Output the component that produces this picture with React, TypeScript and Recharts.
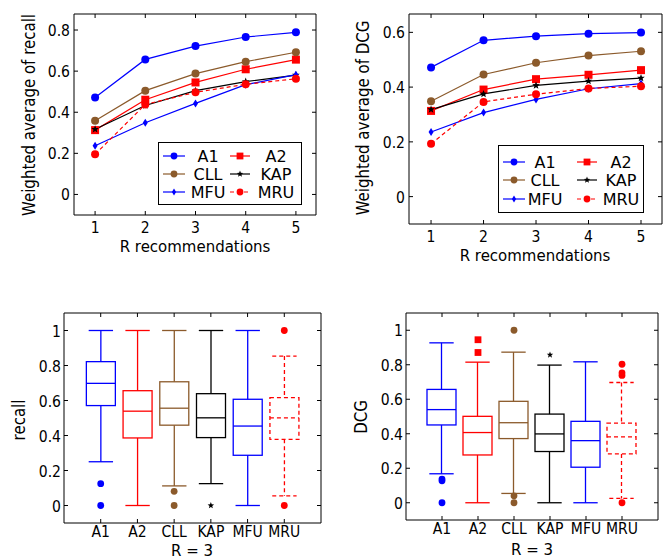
import React from "react";
import { Bar, ComposedChart, Legend, Line, LineChart, Scatter, XAxis, YAxis } from "recharts";

const FONT = "'DejaVu Sans', sans-serif";

const rValues = [1, 2, 3, 4, 5];
const methods = ["A1", "A2", "CLL", "KAP", "MFU", "MRU"];
const boxPositions = [1, 2, 3, 4, 5, 6];

// weighted average of recall, R = 1..5
const recallA1 = [0.472, 0.657, 0.722, 0.766, 0.789];
const recallA2 = [0.313, 0.461, 0.545, 0.609, 0.656];
const recallCLL = [0.359, 0.505, 0.588, 0.646, 0.692];
const recallKAP = [0.317, 0.433, 0.505, 0.549, 0.581];
const recallMFU = [0.237, 0.349, 0.443, 0.534, 0.583];
const recallMRU = [0.195, 0.438, 0.497, 0.536, 0.563];

// weighted average of DCG, R = 1..5
const dcgA1 = [0.472, 0.571, 0.586, 0.595, 0.599];
const dcgA2 = [0.313, 0.391, 0.429, 0.445, 0.462];
const dcgCLL = [0.348, 0.446, 0.489, 0.515, 0.531];
const dcgKAP = [0.318, 0.375, 0.406, 0.422, 0.433];
const dcgMFU = [0.236, 0.307, 0.355, 0.394, 0.413];
const dcgMRU = [0.193, 0.346, 0.374, 0.395, 0.403];

// box plots at R = 3 (order: A1, A2, CLL, KAP, MFU, MRU)
const recallLow = [0.25, 0, 0.112, 0.125, 0, 0.055];
const recallQ1 = [0.571, 0.386, 0.459, 0.388, 0.287, 0.378];
const recallMed = [0.698, 0.539, 0.556, 0.501, 0.454, 0.501];
const recallQ3 = [0.822, 0.656, 0.707, 0.639, 0.607, 0.616];
const recallHigh = [1, 1, 1, 1, 1, 0.854];
const recallOutliers = [[0.125, 0], [], [0.081, 0], [0], [], [1, 0]];

const dcgLow = [0.168, 0, 0.054, 0, 0, 0.025];
const dcgQ1 = [0.451, 0.277, 0.372, 0.297, 0.206, 0.283];
const dcgMed = [0.54, 0.407, 0.464, 0.399, 0.36, 0.382];
const dcgQ3 = [0.657, 0.501, 0.588, 0.514, 0.472, 0.462];
const dcgHigh = [0.927, 0.815, 0.873, 0.798, 0.817, 0.697];
const dcgOutliers = [[0.137, 0.127, 0], [0.945, 0.871], [1, 0.04, 0], [0.857], [], [0.803, 0.753, 0.738, 0]];

const seriesStyle: Record<string, { color: string; marker: string; dash?: string }> = {
  A1: { color: "#0000ff", marker: "circle" },
  A2: { color: "#ff0000", marker: "square" },
  CLL: { color: "#8b5a2b", marker: "circle" },
  KAP: { color: "#000000", marker: "star" },
  MFU: { color: "#0000ff", marker: "thin" },
  MRU: { color: "#ff0000", marker: "circle", dash: "4 3" },
};

function Marker({ kind, cx, cy, color, size = 1 }: any) {
  if (cx == null || cy == null) return <g />;
  if (kind === "square") {
    const h = 4 * size;
    return <rect x={cx - h} y={cy - h} width={2 * h} height={2 * h} fill={color} />;
  }
  if (kind === "star") {
    const pts: string[] = [];
    for (let i = 0; i < 10; i++) {
      const r = (i % 2 === 0 ? 4 : 1.7) * size;
      const a = -Math.PI / 2 + (i * Math.PI) / 5;
      pts.push(`${cx + r * Math.cos(a)},${cy + r * Math.sin(a)}`);
    }
    return <polygon points={pts.join(" ")} fill={color} />;
  }
  if (kind === "thin") {
    const w = 2.5 * size;
    const h = 4 * size;
    return <polygon points={`${cx},${cy - h} ${cx + w},${cy} ${cx},${cy + h} ${cx - w},${cy}`} fill={color} />;
  }
  return <circle cx={cx} cy={cy} r={4 * size} fill={color} />;
}

// text a bit taller than wide, like the scaled-up original
function SText({ x, y, size, sy, anchor, rotate, children }: any) {
  const tf = `translate(${x} ${y})${rotate ? ` rotate(${rotate})` : ""} scale(1 ${sy})`;
  return (
    <text x={0} y={0} transform={tf} textAnchor={anchor} fontSize={size} fontFamily={FONT} fill="#000">
      {children}
    </text>
  );
}

const fmtNum = (v: number) => (v === 0 ? "0" : v === 1 ? "1" : v.toFixed(1));

function bottomTick(label: (v: number) => string, dy: number) {
  return (t: any) => (
    <g>
      <line x1={t.x} y1={t.y} x2={t.x} y2={t.y - 4} stroke="#000" />
      <SText x={t.x} y={t.y + dy} size={14} sy={1.1} anchor="middle">
        {label(t.payload.value)}
      </SText>
    </g>
  );
}

const topTick = (t: any) => <line x1={t.x} y1={t.y} x2={t.x} y2={t.y + 4} stroke="#000" />;
const rightTick = (t: any) => <line x1={t.x} y1={t.y} x2={t.x - 4} y2={t.y} stroke="#000" />;

function leftTick(gap: number) {
  return (t: any) => (
    <g>
      <line x1={t.x} y1={t.y} x2={t.x + 4} y2={t.y} stroke="#000" />
      <SText x={t.x - gap} y={t.y + 6} size={14} sy={1.1} anchor="end">
        {fmtNum(t.payload.value)}
      </SText>
    </g>
  );
}

function titleX(text: string, x: number, y: number) {
  return {
    content: () => (
      <SText x={x} y={y} size={15} sy={1.1} anchor="middle">
        {text}
      </SText>
    ),
  };
}

function titleY(text: string, x: number, y: number) {
  return {
    content: () => (
      <SText x={x} y={y} size={15} sy={1.15} anchor="middle" rotate={-90}>
        {text}
      </SText>
    ),
  };
}

type LegendGeom = { w: number; h: number; rows: number[]; cols: { line: [number, number]; text: number; names: string[] }[] };

function LegendBox({ g }: { g: LegendGeom }) {
  return (
    <svg width={g.w} height={g.h} style={{ display: "block" }}>
      <rect x={0.5} y={0.5} width={g.w - 1} height={g.h - 1} fill="#fff" stroke="#000" />
      {g.cols.map((c) =>
        c.names.map((m, i) => {
          const s = seriesStyle[m];
          const y = g.rows[i];
          const mx = (c.line[0] + c.line[1]) / 2;
          return (
            <g key={m}>
              <line x1={c.line[0]} y1={y} x2={c.line[1]} y2={y} stroke={s.color} strokeWidth={1.2} strokeDasharray={s.dash} />
              <Marker kind={s.marker} cx={mx} cy={y} color={s.color} size={0.85} />
              <text x={c.text} y={y + 6} textAnchor="middle" fontSize={16} fontFamily={FONT} fill="#000">
                {m}
              </text>
            </g>
          );
        })
      )}
    </svg>
  );
}

type LinePanelProps = {
  left: number;
  top: number;
  width: number;
  height: number;
  margin: { top: number; right: number; bottom: number; left: number };
  values: Record<string, number[]>;
  yDomain: [number, number];
  yTicks: number[];
  yLabel: string;
  xTitle: [number, number];
  yTitle: [number, number];
  legendPos: { left: number; top: number };
  legend: LegendGeom;
};

function LinePanel(p: LinePanelProps) {
  const rows = rValues.map((r, i) => {
    const row: Record<string, number> = { r };
    methods.forEach((m) => (row[m] = p.values[m][i]));
    return row;
  });
  return (
    <div style={{ position: "absolute", left: p.left, top: p.top }}>
      <LineChart width={p.width} height={p.height} data={rows} margin={p.margin}>
        <XAxis
          dataKey="r"
          type="number"
          domain={[0.58, 5.4]}
          ticks={rValues}
          interval={0}
          allowDataOverflow
          height={40}
          tickSize={0}
          tickMargin={0}
          tickLine={false}
          axisLine={{ stroke: "#000" }}
          tick={bottomTick((v) => String(v), 18)}
          label={titleX("R recommendations", p.xTitle[0], p.xTitle[1])}
        />
        <XAxis
          xAxisId="top"
          orientation="top"
          dataKey="r"
          type="number"
          domain={[0.58, 5.4]}
          ticks={rValues}
          interval={0}
          allowDataOverflow
          height={1}
          tickSize={0}
          tickMargin={0}
          tickLine={false}
          axisLine={{ stroke: "#000" }}
          tick={topTick}
        />
        <YAxis
          type="number"
          domain={p.yDomain}
          ticks={p.yTicks}
          interval={0}
          allowDataOverflow
          width={44}
          tickSize={0}
          tickMargin={0}
          tickLine={false}
          axisLine={{ stroke: "#000" }}
          tick={leftTick(4)}
          label={titleY(p.yLabel, p.yTitle[0], p.yTitle[1])}
        />
        <YAxis
          yAxisId="right"
          orientation="right"
          type="number"
          domain={p.yDomain}
          ticks={p.yTicks}
          interval={0}
          allowDataOverflow
          width={1}
          tickSize={0}
          tickMargin={0}
          tickLine={false}
          axisLine={{ stroke: "#000" }}
          tick={rightTick}
        />
        {methods.map((m) => {
          const s = seriesStyle[m];
          return (
            <Line
              key={m}
              dataKey={m}
              stroke={s.color}
              strokeWidth={1.2}
              strokeDasharray={s.dash}
              isAnimationActive={false}
              dot={(d: any) => <Marker key={`${m}-${d.index}`} kind={s.marker} cx={d.cx} cy={d.cy} color={s.color} />}
              activeDot={false}
            />
          );
        })}
        <Legend
          verticalAlign="middle"
          align="center"
          layout="horizontal"
          wrapperStyle={{ left: p.legendPos.left, top: p.legendPos.top, width: p.legend.w, height: p.legend.h }}
          content={() => <LegendBox g={p.legend} />}
        />
      </LineChart>
    </div>
  );
}

function BoxShape(props: any) {
  const { x, y, width, height, payload } = props;
  const [lo, hi] = payload.range;
  const k = height / (hi - lo);
  const py = (v: number) => y + (hi - v) * k;
  const s = seriesStyle[payload.method];
  const cx = x + width / 2;
  const cap = width * 0.42;
  const common = { stroke: s.color, strokeWidth: 1.3, strokeDasharray: s.dash, fill: "none" };
  return (
    <g>
      <line x1={cx} y1={py(hi)} x2={cx} y2={py(payload.q3)} {...common} />
      <line x1={cx} y1={py(payload.q1)} x2={cx} y2={py(lo)} {...common} />
      <line x1={cx - cap} y1={py(hi)} x2={cx + cap} y2={py(hi)} {...common} />
      <line x1={cx - cap} y1={py(lo)} x2={cx + cap} y2={py(lo)} {...common} />
      <rect x={x} y={py(payload.q3)} width={width} height={py(payload.q1) - py(payload.q3)} {...common} />
      <line x1={x} y1={py(payload.med)} x2={x + width} y2={py(payload.med)} {...common} />
    </g>
  );
}

type BoxPanelProps = {
  left: number;
  top: number;
  width: number;
  height: number;
  margin: { top: number; right: number; bottom: number; left: number };
  low: number[];
  q1: number[];
  med: number[];
  q3: number[];
  high: number[];
  outliers: number[][];
  yLabel: string;
  xTitle: [number, number];
  yTitle: [number, number];
  tickDy: number;
};

const boxTicks = [0, 0.2, 0.4, 0.6, 0.8, 1];

function BoxPanel(p: BoxPanelProps) {
  const rows = methods.map((m, i) => ({
    pos: boxPositions[i],
    method: m,
    range: [p.low[i], p.high[i]],
    q1: p.q1[i],
    med: p.med[i],
    q3: p.q3[i],
  }));
  return (
    <div style={{ position: "absolute", left: p.left, top: p.top }}>
      <ComposedChart width={p.width} height={p.height} data={rows} margin={p.margin}>
        <XAxis
          dataKey="pos"
          type="number"
          domain={[0, 7]}
          ticks={boxPositions}
          interval={0}
          allowDataOverflow
          height={35}
          tickSize={0}
          tickMargin={0}
          tickLine={false}
          axisLine={{ stroke: "#000" }}
          tick={bottomTick((v) => methods[v - 1], p.tickDy)}
          label={titleX("R = 3", p.xTitle[0], p.xTitle[1])}
        />
        <XAxis
          xAxisId="top"
          orientation="top"
          dataKey="pos"
          type="number"
          domain={[0, 7]}
          ticks={boxPositions}
          interval={0}
          allowDataOverflow
          height={1}
          tickSize={0}
          tickMargin={0}
          tickLine={false}
          axisLine={{ stroke: "#000" }}
          tick={topTick}
        />
        <YAxis
          type="number"
          domain={[-0.1, 1.1]}
          ticks={boxTicks}
          interval={0}
          allowDataOverflow
          width={40}
          tickSize={0}
          tickMargin={0}
          tickLine={false}
          axisLine={{ stroke: "#000" }}
          tick={leftTick(3)}
          label={titleY(p.yLabel, p.yTitle[0], p.yTitle[1])}
        />
        <YAxis
          yAxisId="right"
          orientation="right"
          type="number"
          domain={[-0.1, 1.1]}
          ticks={boxTicks}
          interval={0}
          allowDataOverflow
          width={1}
          tickSize={0}
          tickMargin={0}
          tickLine={false}
          axisLine={{ stroke: "#000" }}
          tick={rightTick}
        />
        <Bar dataKey="range" barSize={29} isAnimationActive={false} shape={(s: any) => <BoxShape {...s} />} />
        {methods.map((m, i) =>
          p.outliers[i].length ? (
            <Scatter
              key={m}
              data={p.outliers[i].map((v) => ({ pos: boxPositions[i], v }))}
              dataKey="v"
              isAnimationActive={false}
              shape={(d: any) => (
                <Marker kind={seriesStyle[m].marker} cx={d.cx} cy={d.cy} color={seriesStyle[m].color} size={0.85} />
              )}
            />
          ) : null
        )}
      </ComposedChart>
    </div>
  );
}

export default function App() {
  return (
    <div style={{ position: "absolute", left: 0, top: 0, width: 671, height: 559, background: "#fff", fontFamily: FONT }}>
      <LinePanel
        left={0}
        top={0}
        width={340}
        height={280}
        margin={{ top: 13, right: 23, bottom: 25, left: 30 }}
        values={{ A1: recallA1, A2: recallA2, CLL: recallCLL, KAP: recallKAP, MFU: recallMFU, MRU: recallMRU }}
        yDomain={[-0.1, 0.878]}
        yTicks={[0, 0.2, 0.4, 0.6, 0.8]}
        yLabel="Weighted average of recall"
        xTitle={[195, 252]}
        yTitle={[35, 115]}
        legendPos={{ left: 158, top: 142 }}
        legend={{
          w: 144,
          h: 63,
          rows: [14, 32, 50],
          cols: [
            { line: [5, 27], text: 50, names: ["A1", "CLL", "MFU"] },
            { line: [72, 92], text: 118, names: ["A2", "KAP", "MRU"] },
          ],
        }}
      />
      <LinePanel
        left={330}
        top={0}
        width={341}
        height={280}
        margin={{ top: 13, right: 8, bottom: 16, left: 35 }}
        values={{ A1: dcgA1, A2: dcgA2, CLL: dcgCLL, KAP: dcgKAP, MFU: dcgMFU, MRU: dcgMRU }}
        yDomain={[-0.1, 0.667]}
        yTicks={[0, 0.2, 0.4, 0.6]}
        yLabel="Weighted average of DCG"
        xTitle={[205, 261]}
        yTitle={[39, 118]}
        legendPos={{ left: 168, top: 145 }}
        legend={{
          w: 146,
          h: 68,
          rows: [17, 35, 54],
          cols: [
            { line: [5, 27], text: 47, names: ["A1", "CLL", "MFU"] },
            { line: [79, 99], text: 123, names: ["A2", "KAP", "MRU"] },
          ],
        }}
      />
      <BoxPanel
        left={0}
        top={290}
        width={340}
        height={269}
        margin={{ top: 22, right: 18, bottom: 1, left: 24 }}
        low={recallLow}
        q1={recallQ1}
        med={recallMed}
        q3={recallQ3}
        high={recallHigh}
        outliers={recallOutliers}
        yLabel="recall"
        xTitle={[192, 266]}
        yTitle={[25, 130]}
        tickDy={14}
      />
      <BoxPanel
        left={330}
        top={290}
        width={341}
        height={269}
        margin={{ top: 22, right: 12, bottom: 4, left: 36 }}
        low={dcgLow}
        q1={dcgQ1}
        med={dcgMed}
        q3={dcgQ3}
        high={dcgHigh}
        outliers={dcgOutliers}
        yLabel="DCG"
        xTitle={[202, 265]}
        yTitle={[37, 127]}
        tickDy={14}
      />
    </div>
  );
}
